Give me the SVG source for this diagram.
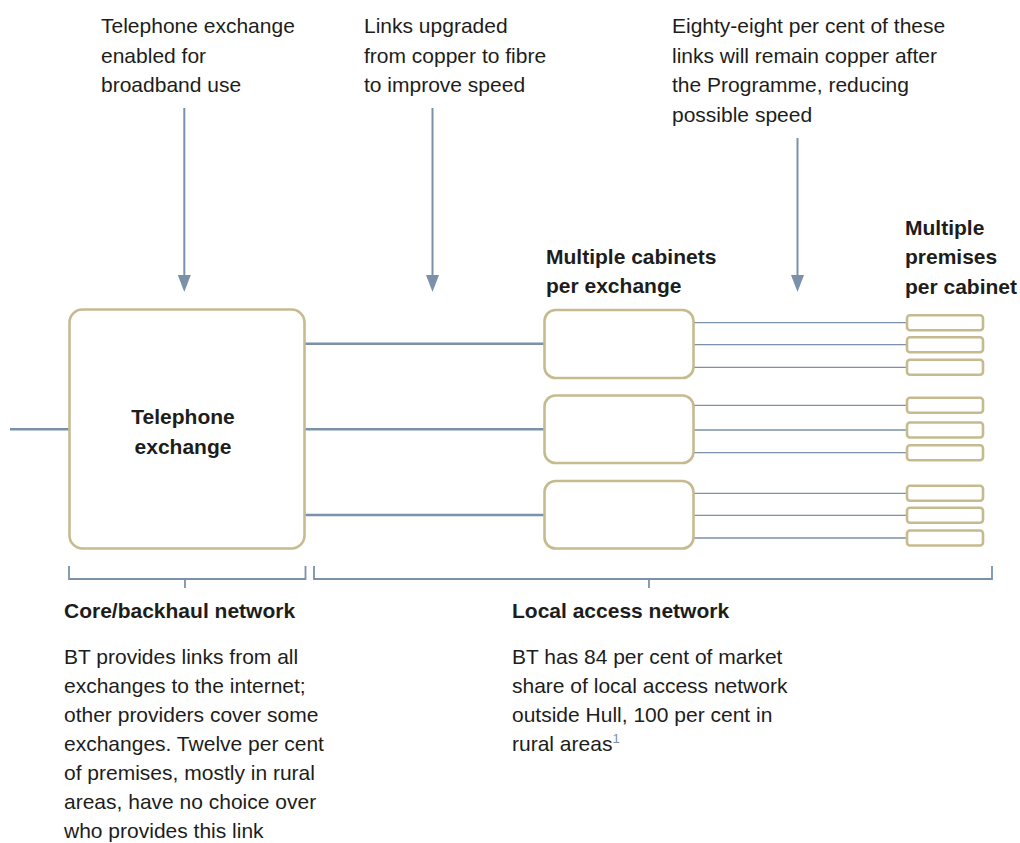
<svg xmlns="http://www.w3.org/2000/svg" width="1020" height="843" viewBox="0 0 1020 843">
<style>
text{font-family:"Liberation Sans",Arial,sans-serif;font-size:21px;fill:#1d1d1b}
.b{font-weight:700}
.box{fill:#fff;stroke:#c6bb8f;stroke-width:2.6}
.thick{stroke:#7b91aa;stroke-width:2.4;fill:none}
.thin{stroke:#7b91aa;stroke-width:1.3;fill:none}
.arr{stroke:#7b91aa;stroke-width:2;fill:none}
.br{stroke:#7b91aa;stroke-width:1.8;fill:none}
</style>
<defs>
<marker id="ah" markerUnits="userSpaceOnUse" markerWidth="18" markerHeight="14" refX="5" refY="6.5" orient="auto" viewBox="0 0 18 13">
<path d="M0,0 L17,6.5 L0,13 Z" fill="#7b91aa"/>
</marker>
</defs>
<rect width="1020" height="843" fill="#fff"/>
<g id="connectors">
<line class="thick" x1="10" y1="429.3" x2="69" y2="429.3"/>
<line class="thick" x1="305" y1="343.7" x2="545" y2="343.7"/>
<line class="thick" x1="305" y1="429.3" x2="545" y2="429.3"/>
<line class="thick" x1="305" y1="515" x2="545" y2="515"/>
<line class="thin" x1="694" y1="322.7" x2="907" y2="322.7"/>
<line class="thin" x1="694" y1="344.7" x2="907" y2="344.7"/>
<line class="thin" x1="694" y1="367.3" x2="907" y2="367.3"/>
<line class="thin" x1="694" y1="405.3" x2="907" y2="405.3"/>
<line class="thin" x1="694" y1="430" x2="907" y2="430"/>
<line class="thin" x1="694" y1="452.7" x2="907" y2="452.7"/>
<line class="thin" x1="694" y1="493.3" x2="907" y2="493.3"/>
<line class="thin" x1="694" y1="515.3" x2="907" y2="515.3"/>
<line class="thin" x1="694" y1="538" x2="907" y2="538"/>
<line class="arr" x1="184.3" y1="108" x2="184.3" y2="280" marker-end="url(#ah)"/>
<line class="arr" x1="432.5" y1="108" x2="432.5" y2="280" marker-end="url(#ah)"/>
<line class="arr" x1="797.5" y1="138" x2="797.5" y2="280" marker-end="url(#ah)"/>
</g>
<g id="brackets">
<path class="br" d="M69,566 V579 H305.5 V566 M185,579 V588"/>
<path class="br" d="M314,566 V579 H992 V566 M649,579 V588"/>
</g>
<g id="exchange">
<rect class="box" x="69.5" y="309.5" width="235" height="239" rx="13"/>
<text class="b" x="183" y="424" text-anchor="middle">Telephone</text>
<text class="b" x="183" y="453.5" text-anchor="middle">exchange</text>
</g>
<g id="cabinet1"><rect class="box" x="544.5" y="310" width="149" height="68" rx="11"/></g>
<g id="cabinet2"><rect class="box" x="544.5" y="395.5" width="149" height="67.5" rx="11"/></g>
<g id="cabinet3"><rect class="box" x="544.5" y="481" width="149" height="67.5" rx="11"/></g>
<g id="premises">
<rect class="box" x="907" y="315.2" width="76" height="15" rx="3"/>
<rect class="box" x="907" y="337.2" width="76" height="15" rx="3"/>
<rect class="box" x="907" y="359.8" width="76" height="15" rx="3"/>
<rect class="box" x="907" y="397.8" width="76" height="15" rx="3"/>
<rect class="box" x="907" y="422.5" width="76" height="15" rx="3"/>
<rect class="box" x="907" y="445.2" width="76" height="15" rx="3"/>
<rect class="box" x="907" y="485.8" width="76" height="15" rx="3"/>
<rect class="box" x="907" y="507.8" width="76" height="15" rx="3"/>
<rect class="box" x="907" y="530.5" width="76" height="15" rx="3"/>
</g>
<g id="label-exchange-enabled">
<text x="101" y="33">Telephone exchange</text>
<text x="101" y="62.6">enabled for</text>
<text x="101" y="92.2">broadband use</text>
</g>
<g id="label-links-upgraded">
<text x="364" y="33">Links upgraded</text>
<text x="364" y="62.6">from copper to fibre</text>
<text x="364" y="92.2">to improve speed</text>
</g>
<g id="label-copper">
<text x="672" y="33">Eighty-eight per cent of these</text>
<text x="672" y="62.6">links will remain copper after</text>
<text x="672" y="92.2">the Programme, reducing</text>
<text x="672" y="121.8">possible speed</text>
</g>
<g id="label-cabinets">
<text class="b" x="546" y="263.5">Multiple cabinets</text>
<text class="b" x="546" y="293">per exchange</text>
</g>
<g id="label-premises">
<text class="b" x="905" y="234.5">Multiple</text>
<text class="b" x="905" y="264">premises</text>
<text class="b" x="905" y="293.5">per cabinet</text>
</g>
<g id="core">
<text class="b" x="64" y="618">Core/backhaul network</text>
<text x="64" y="664.3">BT provides links from all</text>
<text x="64" y="693.3">exchanges to the internet;</text>
<text x="64" y="722.3">other providers cover some</text>
<text x="64" y="751.2">exchanges. Twelve per cent</text>
<text x="64" y="780.1">of premises, mostly in rural</text>
<text x="64" y="809">areas, have no choice over</text>
<text x="64" y="837.9">who provides this link</text>
</g>
<g id="local">
<text class="b" x="512" y="618">Local access network</text>
<text x="512" y="664.3">BT has 84 per cent of market</text>
<text x="512" y="693.3">share of local access network</text>
<text x="512" y="722.3">outside Hull, 100 per cent in</text>
<text x="512" y="751.2">rural areas<tspan font-size="13" dy="-8" style="fill:#7b91aa">1</tspan></text>
</g>
</svg>
